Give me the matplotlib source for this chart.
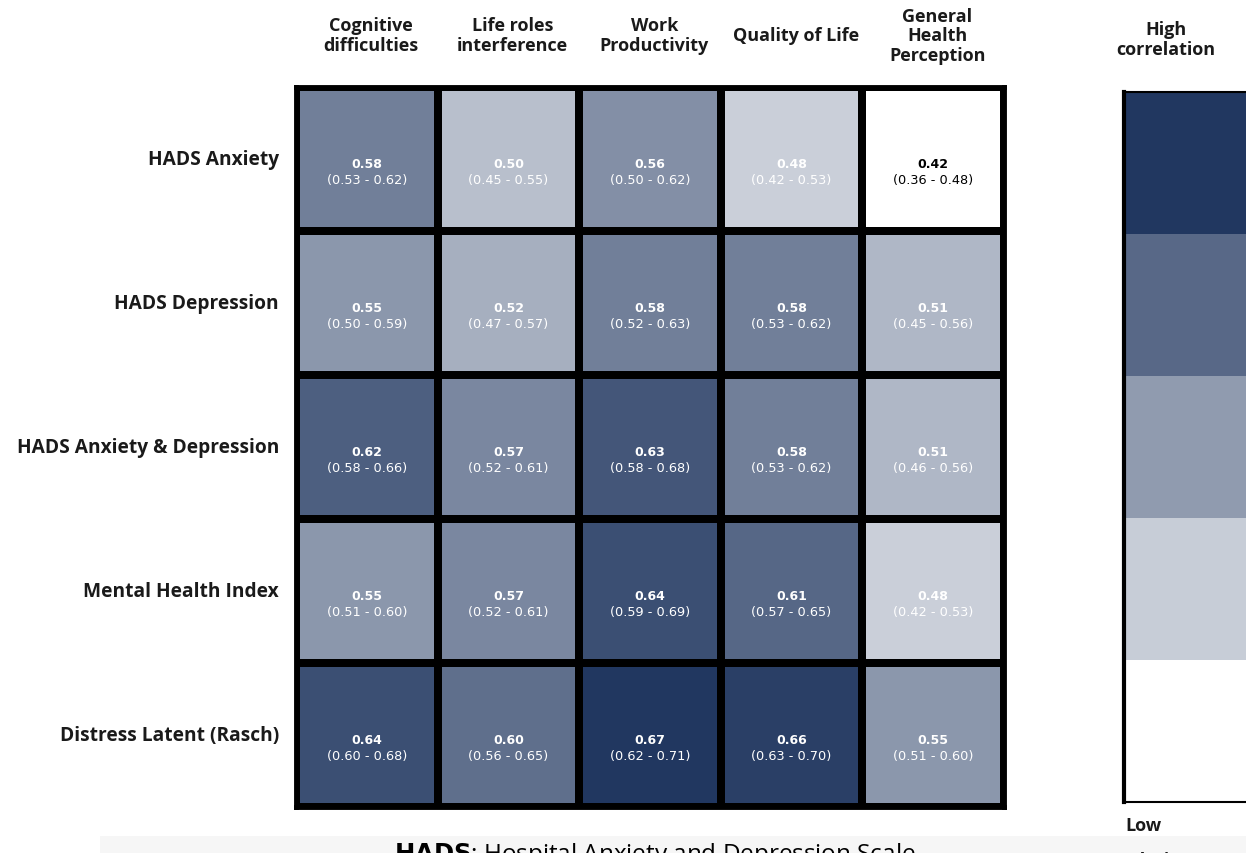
import numpy as np
import matplotlib
matplotlib.use("Agg")
import matplotlib.pyplot as plt
from matplotlib.colors import LinearSegmentedColormap, Normalize
from matplotlib.patches import Rectangle

rows = ["HADS Anxiety", "HADS Depression", "HADS Anxiety & Depression",
        "Mental Health Index", "Distress Latent (Rasch)"]
cols = ["Cognitive\ndifficulties", "Life roles\ninterference", "Work\nProductivity",
        "Quality of Life", "General\nHealth\nPerception"]
values = np.array([
    [0.58, 0.50, 0.56, 0.48, 0.42],
    [0.55, 0.52, 0.58, 0.58, 0.51],
    [0.62, 0.57, 0.63, 0.58, 0.51],
    [0.55, 0.57, 0.64, 0.61, 0.48],
    [0.64, 0.60, 0.67, 0.66, 0.55],
])
lower = np.array([
    [0.53, 0.45, 0.50, 0.42, 0.36],
    [0.50, 0.47, 0.52, 0.53, 0.45],
    [0.58, 0.52, 0.58, 0.53, 0.46],
    [0.51, 0.52, 0.59, 0.57, 0.42],
    [0.60, 0.56, 0.62, 0.63, 0.51],
])
upper = np.array([
    [0.62, 0.55, 0.62, 0.53, 0.48],
    [0.59, 0.57, 0.63, 0.62, 0.56],
    [0.66, 0.61, 0.68, 0.62, 0.56],
    [0.60, 0.61, 0.69, 0.65, 0.53],
    [0.68, 0.65, 0.71, 0.70, 0.60],
])
legend_levels = [0.0, 0.25, 0.5, 0.75, 1.0]

cmap = LinearSegmentedColormap.from_list("navy", ["#ffffff", "#213760"])
norm = Normalize(vmin=0.42, vmax=0.67)

W, H = 1246, 854
fig = plt.figure(figsize=(W / 100, H / 100), dpi=100)

# Footer band
fig.patches.append(Rectangle((100 / W, 0), 1 - 100 / W, 17 / H, transform=fig.transFigure,
                             facecolor="#f6f6f6", edgecolor="none", zorder=0))

ax = fig.add_axes([296 / W, 1 - 808 / H, (1004 - 296) / W, (808 - 88) / H])
nr, nc = values.shape
ax.pcolormesh(np.arange(nc + 1), np.arange(nr + 1), values, cmap=cmap, norm=norm,
              edgecolors="black", linewidth=4.5)
ax.set_xlim(0, nc)
ax.set_ylim(nr, 0)
ax.set_xticks([])
ax.set_yticks([])
for s in ax.spines.values():
    s.set_linewidth(3.5)
    s.set_color("black")

for i in range(nr):
    for j in range(nc):
        v = values[i, j]
        tc = "black" if v <= 0.43 else "white"
        ax.text(j + 0.5, i + 0.53, f"{v:.2f}", ha="center", va="center", fontsize=9,
                fontweight="bold", color=tc, family="DejaVu Sans")
        ax.text(j + 0.5, i + 0.645, f"({lower[i, j]:.2f} - {upper[i, j]:.2f})", ha="center",
                va="center", fontsize=9.3, color=tc, family="DejaVu Sans")

for i, r in enumerate(rows):
    ax.text(-0.12, i + 0.5, r, ha="right", va="center", fontsize=13.8, fontweight="bold",
            family="Open Sans", color="#1a1a1a")
for j, c in enumerate(cols):
    ax.text(j + 0.53, -0.36, c, ha="center", va="center", fontsize=13, fontweight="bold",
            family="Open Sans", color="#1a1a1a", linespacing=1.1)

# Legend bar
cax = fig.add_axes([1124 / W, 1 - 803 / H, 0.12, (803 - 93) / H])
nb = len(legend_levels)
for k, lv in enumerate(legend_levels):
    cax.add_patch(Rectangle((0, k), 1, 1, facecolor=cmap(lv), edgecolor="none"))
cax.set_xlim(0, 1)
cax.set_ylim(0, nb)
cax.set_xticks([])
cax.set_yticks([])
for s in cax.spines.values():
    s.set_color("black")
    s.set_linewidth(1.5)
cax.spines["left"].set_linewidth(3)

fig.text(1166 / W, 1 - 40 / H, "High\ncorrelation", ha="center", va="center", fontsize=13,
         fontweight="bold", family="Open Sans", color="#1a1a1a", linespacing=1.1)
fig.text(1143 / W, 1 - 826 / H, "Low", ha="center", va="center", fontsize=13,
         fontweight="bold", family="Open Sans", color="#1a1a1a")
fig.text(1143 / W, 1 - 852 / H, "correlation", ha="center", va="top", fontsize=13,
         fontweight="bold", family="Open Sans", color="#1a1a1a")

fig.text(655 / W, 1 - 841 / H, "$\\bf{HADS}$: Hospital Anxiety and Depression Scale",
         ha="center", va="top", fontsize=17.5, family="Open Sans", color="black")

fig.savefig("out.png", dpi=100)
